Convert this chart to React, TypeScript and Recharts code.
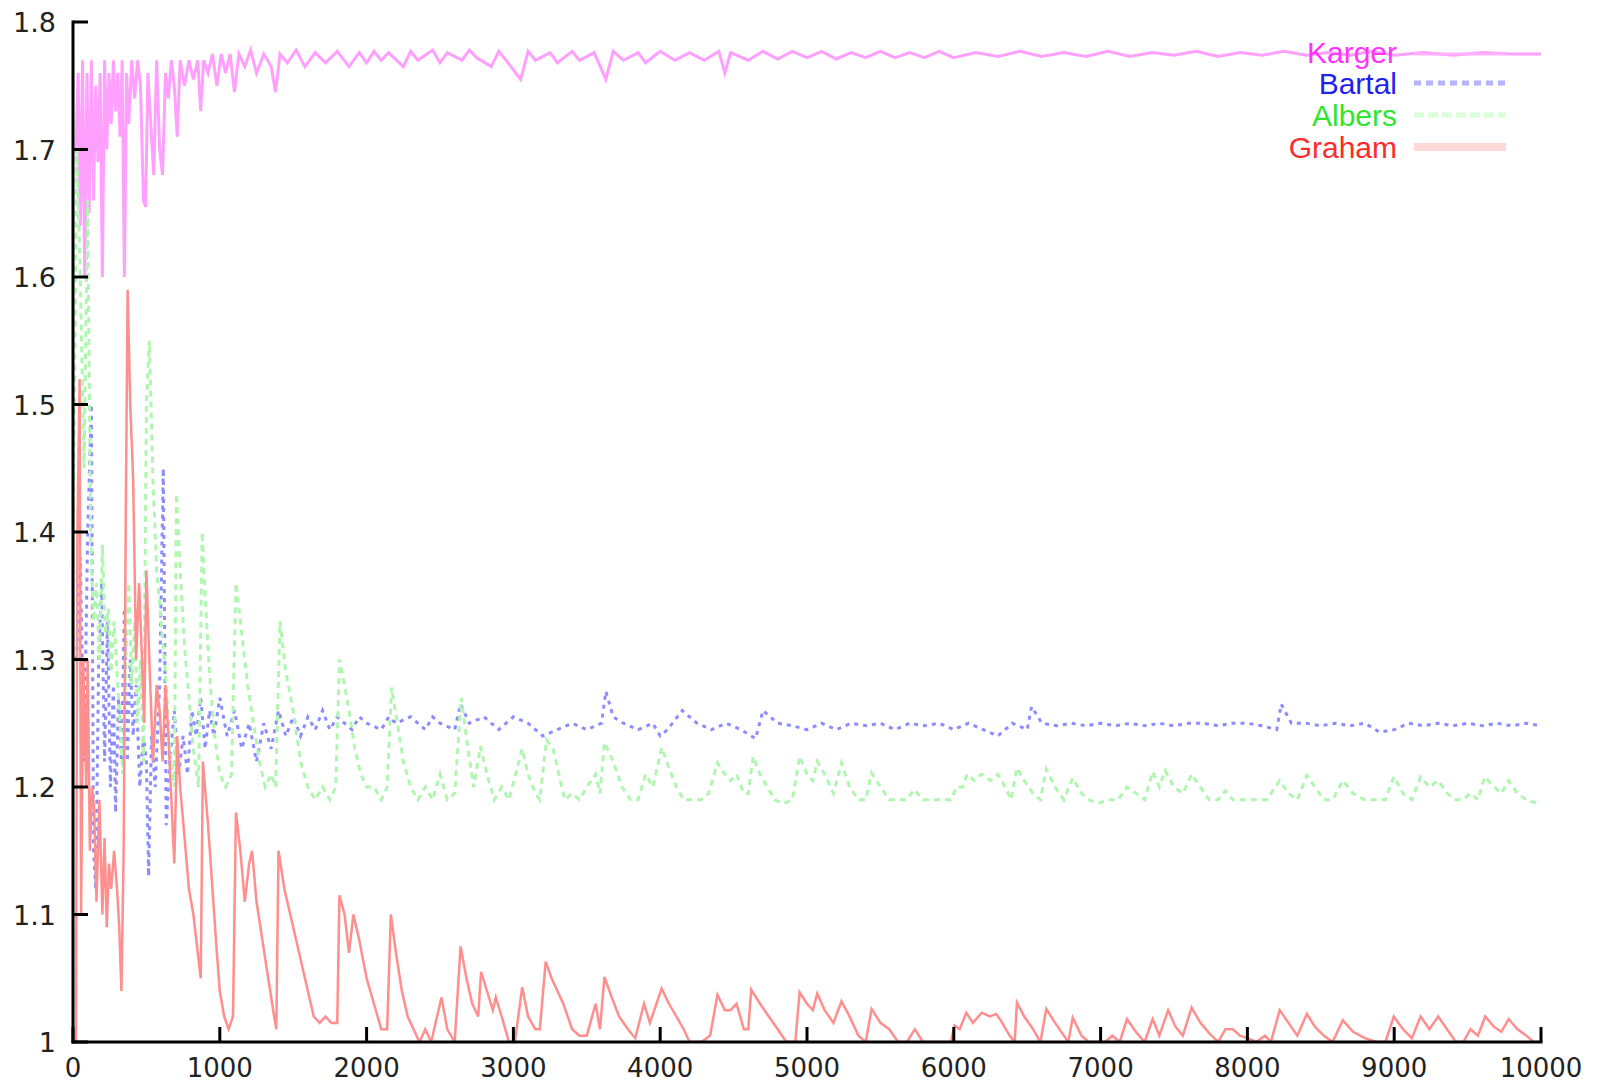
import React from 'react';
import { LineChart, Line, XAxis, YAxis } from 'recharts';

// tick values
const xTicks = [0, 1000, 2000, 3000, 4000, 5000, 6000, 7000, 8000, 9000, 10000];
const yTicks = [1, 1.1, 1.2, 1.3, 1.4, 1.5, 1.6, 1.7, 1.8];

// series as [x, ratio]
const karger: [number, number][] = [
  [20, 1.70], [35, 1.76], [50, 1.64], [65, 1.77], [80, 1.60], [95, 1.76], [110, 1.65], [125, 1.77],
  [140, 1.66], [155, 1.75], [170, 1.69], [185, 1.76], [200, 1.60], [215, 1.77], [230, 1.70], [245, 1.76],
  [260, 1.72], [275, 1.77], [290, 1.73], [305, 1.76], [320, 1.71], [335, 1.77], [350, 1.60], [365, 1.76],
  [380, 1.72], [400, 1.77], [420, 1.74], [440, 1.77], [460, 1.75], [480, 1.66], [495, 1.655], [510, 1.76],
  [530, 1.72], [550, 1.68], [570, 1.77], [590, 1.70], [610, 1.68], [630, 1.76], [650, 1.74], [670, 1.77],
  [690, 1.75], [710, 1.71], [730, 1.77], [760, 1.75], [790, 1.77], [820, 1.755], [850, 1.77], [870, 1.73],
  [890, 1.77], [920, 1.76], [950, 1.775], [980, 1.75], [1010, 1.775], [1040, 1.76], [1070, 1.775],
  [1100, 1.745], [1130, 1.775], [1170, 1.765], [1210, 1.778], [1250, 1.76], [1300, 1.775], [1350, 1.765],
  [1380, 1.745], [1410, 1.775], [1460, 1.768], [1520, 1.778], [1580, 1.765], [1650, 1.776], [1720, 1.768],
  [1800, 1.777], [1880, 1.765], [1950, 1.776], [2000, 1.768], [2050, 1.777], [2100, 1.77], [2150, 1.776],
  [2250, 1.765], [2300, 1.777], [2350, 1.77], [2450, 1.778], [2500, 1.768], [2550, 1.776], [2650, 1.77],
  [2700, 1.778], [2750, 1.772], [2850, 1.765], [2900, 1.777], [2950, 1.77], [3050, 1.755], [3100, 1.777],
  [3150, 1.77], [3250, 1.776], [3300, 1.768], [3400, 1.777], [3450, 1.77], [3550, 1.776], [3630, 1.755],
  [3680, 1.777], [3750, 1.77], [3850, 1.776], [3900, 1.768], [4000, 1.777], [4100, 1.77], [4200, 1.776],
  [4300, 1.77], [4400, 1.777], [4440, 1.76], [4480, 1.776], [4600, 1.77], [4700, 1.777], [4800, 1.771],
  [4900, 1.777], [5000, 1.772], [5100, 1.777], [5200, 1.771], [5300, 1.776], [5400, 1.772], [5500, 1.777],
  [5600, 1.772], [5700, 1.776], [5800, 1.772], [5900, 1.777], [6000, 1.772], [6150, 1.776], [6300, 1.773],
  [6450, 1.777], [6600, 1.773], [6750, 1.776], [6900, 1.773], [7050, 1.777], [7200, 1.773], [7350, 1.776],
  [7500, 1.774], [7650, 1.777], [7800, 1.773], [7950, 1.776], [8100, 1.774], [8250, 1.777], [8400, 1.774],
  [8550, 1.776], [8700, 1.774], [8850, 1.777], [9000, 1.774], [9200, 1.776], [9400, 1.774], [9600, 1.776],
  [9800, 1.775], [10000, 1.775],
];

const bartal: [number, number][] = [
  [25, 1.30], [50, 1.38], [75, 1.22], [100, 1.40], [125, 1.50], [140, 1.15], [155, 1.12], [175, 1.30],
  [195, 1.36], [215, 1.22], [235, 1.33], [255, 1.20], [275, 1.28], [290, 1.18], [310, 1.27], [330, 1.22],
  [350, 1.34], [370, 1.22], [390, 1.30], [410, 1.24], [430, 1.28], [455, 1.20], [480, 1.24], [500, 1.22],
  [515, 1.13], [535, 1.24], [560, 1.20], [590, 1.28], [615, 1.45], [635, 1.17], [660, 1.22], [690, 1.26],
  [720, 1.21], [750, 1.24], [780, 1.21], [810, 1.26], [840, 1.24], [870, 1.27], [900, 1.23], [930, 1.26],
  [960, 1.24], [1000, 1.27], [1050, 1.24], [1100, 1.26], [1150, 1.23], [1200, 1.25], [1250, 1.22],
  [1300, 1.25], [1350, 1.23], [1400, 1.26], [1450, 1.24], [1500, 1.255], [1550, 1.24], [1600, 1.255],
  [1650, 1.245], [1700, 1.26], [1750, 1.245], [1800, 1.255], [1850, 1.25], [1900, 1.245], [1950, 1.255],
  [2000, 1.25], [2100, 1.245], [2150, 1.255], [2200, 1.25], [2300, 1.255], [2400, 1.245], [2450, 1.255],
  [2500, 1.25], [2600, 1.245], [2640, 1.265], [2700, 1.25], [2800, 1.255], [2900, 1.245], [3000, 1.255],
  [3100, 1.25], [3200, 1.24], [3300, 1.245], [3400, 1.25], [3500, 1.245], [3600, 1.25], [3630, 1.275],
  [3680, 1.255], [3750, 1.25], [3850, 1.245], [3950, 1.25], [4000, 1.24], [4050, 1.245], [4150, 1.26],
  [4250, 1.25], [4350, 1.245], [4450, 1.25], [4550, 1.245], [4620, 1.24], [4650, 1.238], [4700, 1.26],
  [4800, 1.25], [4900, 1.248], [5000, 1.245], [5100, 1.25], [5200, 1.245], [5300, 1.25], [5400, 1.248],
  [5500, 1.25], [5600, 1.245], [5700, 1.25], [5800, 1.248], [5900, 1.25], [6000, 1.245], [6100, 1.25],
  [6200, 1.245], [6300, 1.24], [6400, 1.25], [6500, 1.245], [6530, 1.263], [6600, 1.25], [6700, 1.248],
  [6800, 1.25], [6900, 1.248], [7000, 1.25], [7100, 1.248], [7200, 1.25], [7300, 1.248], [7400, 1.25],
  [7500, 1.248], [7600, 1.25], [7700, 1.25], [7800, 1.248], [7900, 1.25], [8000, 1.25], [8100, 1.248],
  [8200, 1.245], [8230, 1.265], [8300, 1.25], [8400, 1.25], [8500, 1.248], [8600, 1.25], [8700, 1.248],
  [8800, 1.25], [8900, 1.243], [9000, 1.245], [9100, 1.25], [9200, 1.248], [9300, 1.25], [9400, 1.248],
  [9500, 1.25], [9600, 1.248], [9700, 1.25], [9800, 1.248], [9900, 1.25], [10000, 1.248],
];

const albers: [number, number][] = [
  [0, 1.38], [25, 1.70], [50, 1.60], [75, 1.45], [100, 1.66], [120, 1.40], [140, 1.33], [160, 1.36],
  [180, 1.30], [200, 1.39], [220, 1.32], [240, 1.34], [260, 1.29], [280, 1.33], [300, 1.29], [320, 1.25],
  [340, 1.21], [360, 1.30], [380, 1.36], [400, 1.28], [420, 1.33], [440, 1.25], [460, 1.30], [480, 1.22],
  [500, 1.50], [520, 1.55], [545, 1.44], [570, 1.37], [600, 1.33], [630, 1.29], [660, 1.23], [690, 1.20],
  [705, 1.43], [730, 1.37], [760, 1.31], [790, 1.27], [820, 1.23], [855, 1.20], [880, 1.40], [905, 1.34],
  [935, 1.28], [965, 1.24], [1000, 1.21], [1040, 1.20], [1080, 1.21], [1110, 1.36], [1150, 1.32],
  [1190, 1.28], [1230, 1.25], [1270, 1.22], [1310, 1.20], [1350, 1.21], [1380, 1.20], [1410, 1.33],
  [1450, 1.29], [1500, 1.26], [1550, 1.22], [1600, 1.20], [1650, 1.19], [1700, 1.20], [1750, 1.19],
  [1790, 1.20], [1815, 1.30], [1850, 1.28], [1880, 1.26], [1920, 1.23], [1960, 1.21], [2000, 1.20],
  [2050, 1.20], [2100, 1.19], [2140, 1.20], [2170, 1.278], [2210, 1.25], [2250, 1.22], [2300, 1.20],
  [2350, 1.19], [2400, 1.20], [2450, 1.19], [2500, 1.21], [2550, 1.19], [2600, 1.195], [2645, 1.27],
  [2690, 1.23], [2730, 1.20], [2775, 1.232], [2820, 1.21], [2870, 1.19], [2920, 1.20], [2970, 1.19],
  [3060, 1.23], [3100, 1.21], [3150, 1.195], [3180, 1.19], [3225, 1.237], [3270, 1.23], [3310, 1.21],
  [3350, 1.19], [3400, 1.195], [3450, 1.19], [3500, 1.20], [3560, 1.21], [3590, 1.195], [3620, 1.235],
  [3680, 1.22], [3740, 1.20], [3800, 1.19], [3850, 1.19], [3900, 1.21], [3950, 1.20], [4010, 1.231],
  [4060, 1.215], [4110, 1.20], [4160, 1.19], [4220, 1.19], [4280, 1.19], [4330, 1.195], [4390, 1.219],
  [4440, 1.21], [4480, 1.205], [4520, 1.21], [4570, 1.195], [4600, 1.195], [4633, 1.224], [4680, 1.21],
  [4730, 1.20], [4780, 1.19], [4840, 1.187], [4900, 1.19], [4950, 1.224], [5000, 1.21], [5040, 1.205],
  [5070, 1.22], [5120, 1.21], [5180, 1.195], [5235, 1.219], [5290, 1.20], [5350, 1.19], [5400, 1.19],
  [5440, 1.211], [5500, 1.20], [5560, 1.19], [5620, 1.19], [5680, 1.19], [5730, 1.198], [5790, 1.19],
  [5850, 1.19], [5920, 1.19], [5980, 1.19], [6020, 1.20], [6060, 1.20], [6090, 1.21], [6140, 1.205],
  [6190, 1.21], [6250, 1.205], [6300, 1.21], [6350, 1.20], [6390, 1.19], [6430, 1.215], [6480, 1.205],
  [6540, 1.195], [6590, 1.19], [6630, 1.214], [6690, 1.20], [6750, 1.19], [6810, 1.207], [6870, 1.195],
  [6920, 1.19], [6980, 1.187], [7050, 1.19], [7120, 1.19], [7180, 1.20], [7240, 1.195], [7300, 1.19],
  [7355, 1.212], [7400, 1.20], [7440, 1.213], [7500, 1.20], [7560, 1.195], [7620, 1.21], [7680, 1.20],
  [7740, 1.19], [7800, 1.19], [7850, 1.197], [7900, 1.19], [7960, 1.19], [8020, 1.19], [8080, 1.19],
  [8130, 1.19], [8220, 1.205], [8280, 1.195], [8340, 1.19], [8405, 1.209], [8460, 1.20], [8520, 1.19],
  [8580, 1.19], [8650, 1.205], [8720, 1.195], [8800, 1.19], [8880, 1.19], [8940, 1.19], [8997, 1.208],
  [9060, 1.195], [9120, 1.19], [9180, 1.208], [9240, 1.20], [9300, 1.205], [9360, 1.195], [9420, 1.19],
  [9470, 1.19], [9520, 1.195], [9570, 1.19], [9617, 1.208], [9680, 1.20], [9730, 1.195], [9780, 1.205],
  [9840, 1.195], [9900, 1.19], [9950, 1.188], [10000, 1.188],
];

const graham: [number, number][] = [
  [0, 1.00], [20, 1.00], [30, 1.40], [45, 1.52], [55, 1.10], [70, 1.30], [90, 1.20], [100, 1.30],
  [115, 1.15], [130, 1.20], [145, 1.18], [160, 1.11], [180, 1.19], [200, 1.10], [215, 1.16], [230, 1.09],
  [245, 1.14], [260, 1.12], [280, 1.15], [300, 1.12], [315, 1.09], [330, 1.04], [345, 1.15], [360, 1.42],
  [372, 1.59], [390, 1.50], [410, 1.44], [430, 1.30], [450, 1.36], [470, 1.30], [485, 1.25], [500, 1.37],
  [520, 1.30], [545, 1.22], [570, 1.28], [590, 1.26], [610, 1.22], [630, 1.28], [650, 1.24], [670, 1.19],
  [690, 1.14], [710, 1.24], [730, 1.20], [760, 1.16], [790, 1.12], [820, 1.10], [850, 1.07], [870, 1.05],
  [885, 1.22], [920, 1.17], [950, 1.12], [980, 1.07], [1000, 1.04], [1030, 1.02], [1060, 1.01],
  [1090, 1.02], [1110, 1.18], [1140, 1.15], [1170, 1.11], [1200, 1.14], [1220, 1.15], [1250, 1.11],
  [1290, 1.08], [1330, 1.05], [1370, 1.02], [1385, 1.01], [1400, 1.15], [1440, 1.12], [1480, 1.10],
  [1520, 1.08], [1560, 1.06], [1600, 1.04], [1640, 1.02], [1680, 1.015], [1720, 1.02], [1760, 1.015],
  [1800, 1.015], [1815, 1.115], [1850, 1.10], [1880, 1.07], [1910, 1.10], [1950, 1.08], [2000, 1.05],
  [2050, 1.03], [2100, 1.01], [2140, 1.01], [2165, 1.10], [2200, 1.07], [2240, 1.04], [2280, 1.02],
  [2320, 1.01], [2360, 1.00], [2400, 1.01], [2440, 1.00], [2480, 1.02], [2510, 1.035], [2550, 1.01],
  [2600, 1.00], [2640, 1.075], [2680, 1.05], [2720, 1.03], [2760, 1.02], [2780, 1.055], [2820, 1.04],
  [2860, 1.025], [2880, 1.035], [2920, 1.02], [2970, 1.00], [3010, 1.00], [3060, 1.043], [3100, 1.02],
  [3150, 1.01], [3180, 1.01], [3220, 1.063], [3260, 1.05], [3300, 1.04], [3340, 1.03], [3400, 1.01],
  [3450, 1.005], [3500, 1.005], [3560, 1.03], [3590, 1.01], [3620, 1.051], [3670, 1.035], [3720, 1.02],
  [3780, 1.01], [3830, 1.003], [3890, 1.03], [3930, 1.015], [4010, 1.042], [4060, 1.03], [4110, 1.02],
  [4160, 1.01], [4200, 1.0], [4280, 1.0], [4340, 1.005], [4390, 1.037], [4440, 1.025], [4480, 1.025],
  [4520, 1.03], [4570, 1.01], [4600, 1.01], [4620, 1.041], [4680, 1.03], [4740, 1.02], [4800, 1.01],
  [4860, 1.0], [4920, 1.0], [4950, 1.039], [5000, 1.03], [5040, 1.025], [5070, 1.038], [5120, 1.025],
  [5180, 1.015], [5235, 1.032], [5290, 1.02], [5350, 1.005], [5400, 1.0], [5440, 1.026], [5500, 1.015],
  [5560, 1.01], [5620, 1.0], [5680, 1.0], [5735, 1.01], [5790, 1.0], [5850, 1.0], [5920, 1.0],
  [5980, 1.0], [6005, 1.013], [6040, 1.01], [6085, 1.023], [6130, 1.015], [6190, 1.023], [6245, 1.02],
  [6290, 1.022], [6330, 1.015], [6380, 1.005], [6415, 1.0], [6430, 1.031], [6480, 1.02], [6540, 1.01],
  [6590, 1.0], [6630, 1.026], [6690, 1.015], [6750, 1.005], [6780, 1.0], [6810, 1.019], [6870, 1.005],
  [6920, 1.0], [6980, 1.0], [7030, 1.0], [7080, 1.005], [7130, 1.0], [7180, 1.018], [7240, 1.008],
  [7300, 1.0], [7355, 1.018], [7400, 1.005], [7460, 1.025], [7510, 1.012], [7560, 1.005], [7620, 1.027],
  [7680, 1.015], [7740, 1.007], [7800, 1.0], [7850, 1.01], [7900, 1.01], [7950, 1.005], [8000, 1.003],
  [8060, 1.0], [8120, 1.005], [8160, 1.0], [8220, 1.025], [8280, 1.015], [8340, 1.005], [8405, 1.022],
  [8460, 1.012], [8520, 1.005], [8580, 1.0], [8650, 1.017], [8720, 1.008], [8800, 1.003], [8880, 1.0],
  [8940, 1.0], [8997, 1.02], [9060, 1.01], [9120, 1.003], [9180, 1.02], [9240, 1.01], [9300, 1.02],
  [9360, 1.01], [9420, 1.0], [9470, 1.0], [9520, 1.01], [9570, 1.005], [9620, 1.02], [9680, 1.012],
  [9730, 1.008], [9780, 1.018], [9840, 1.01], [9900, 1.005], [9950, 1.0], [10000, 1.0],
];

const rows = (pts: [number, number][]) => pts.map(([x, v]) => ({ x, v }));

const W = 1602;
const H = 1085;
const tickFont = '"DejaVu Sans", sans-serif';
const labelColor = '#222';
const frame = { stroke: '#000', strokeWidth: 3, strokeLinecap: 'square' as const };

const BottomTick = (props: any) => {
  const { x, y, payload } = props;
  return (
    <g>
      <line x1={x} x2={x} y1={y} y2={y - 15} stroke="#000" strokeWidth={3} />
      <text x={x} y={y + 35} textAnchor="middle" fontSize={26} fontFamily={tickFont} fill={labelColor}>
        {payload.value}
      </text>
    </g>
  );
};

const LeftTick = (props: any) => {
  const { x, y, payload } = props;
  return (
    <g>
      <line x1={x} x2={x + 15} y1={y} y2={y} stroke="#000" strokeWidth={3} />
      <text x={x - 17} y={y + 10} textAnchor="end" fontSize={27} fontFamily={tickFont} fill={labelColor}>
        {String(payload.value)}
      </text>
    </g>
  );
};

const TopTick = (props: any) => {
  const { x, y } = props;
  return <line x1={x} x2={x} y1={y} y2={y + 15} stroke="#000" strokeWidth={3} />;
};

const RightTick = (props: any) => {
  const { x, y } = props;
  return <line x1={x} x2={x - 15} y1={y} y2={y} stroke="#000" strokeWidth={3} />;
};

const legendItems = [
  { name: 'Karger', text: '#ff33ff', sample: '#ffb0ff', width: 3, dash: undefined as string | undefined, baseline: 63, lineY: 54 },
  { name: 'Bartal', text: '#1f1ff0', sample: '#b4b4ff', width: 5, dash: '7 5', baseline: 94, lineY: 83 },
  { name: 'Albers', text: '#2ee62e', sample: '#d8ffd8', width: 5, dash: '10 4', baseline: 126, lineY: 115 },
  { name: 'Graham', text: '#ff2a2a', sample: '#ffd8d8', width: 8, dash: undefined, baseline: 158, lineY: 147 },
];

export default function App() {
  return (
    <div style={{ position: 'absolute', left: 0, top: 0, width: W, height: H, background: '#fff' }}>
      <LineChart width={W} height={H} margin={{ top: 22, right: 61, bottom: 0, left: 0 }}>
        <XAxis
          dataKey="x"
          type="number"
          domain={[0, 10000]}
          ticks={xTicks}
          interval={0}
          height={43}
          tickSize={0}
          tickMargin={0}
          tickLine={false}
          axisLine={frame}
          tick={<BottomTick />}
          allowDataOverflow
        />
        <XAxis
          xAxisId="top"
          orientation="top"
          dataKey="x"
          type="number"
          domain={[0, 10000]}
          ticks={xTicks}
          interval={0}
          height={0}
          tickSize={0}
          tickMargin={0}
          tickLine={false}
          axisLine={frame}
          tick={<TopTick />}
          allowDataOverflow
        />
        <YAxis
          type="number"
          domain={[1, 1.8]}
          ticks={yTicks}
          interval={0}
          width={73}
          tickSize={0}
          tickMargin={0}
          tickLine={false}
          axisLine={frame}
          tick={<LeftTick />}
          allowDataOverflow
        />
        <YAxis
          yAxisId="right"
          orientation="right"
          type="number"
          domain={[1, 1.8]}
          ticks={yTicks}
          interval={0}
          width={0}
          tickSize={0}
          tickMargin={0}
          tickLine={false}
          axisLine={frame}
          tick={<RightTick />}
          allowDataOverflow
        />
        <Line data={rows(karger)} dataKey="v" name="Karger" type="linear" stroke="#ffa0ff" strokeWidth={3} dot={false} activeDot={false} isAnimationActive={false} />
        <Line data={rows(bartal)} dataKey="v" name="Bartal" type="linear" stroke="#8c8cff" strokeWidth={3} strokeDasharray="4 5" dot={false} activeDot={false} isAnimationActive={false} />
        <Line data={rows(albers)} dataKey="v" name="Albers" type="linear" stroke="#b0f5b0" strokeWidth={3} strokeDasharray="6 5" dot={false} activeDot={false} isAnimationActive={false} />
        <Line data={rows(graham)} dataKey="v" name="Graham" type="linear" stroke="#ff8e8e" strokeWidth={2.5} dot={false} activeDot={false} isAnimationActive={false} />
      </LineChart>
      <svg width={W} height={200} style={{ position: 'absolute', left: 0, top: 0, pointerEvents: 'none' }}>
        {legendItems.map((it) => (
          <g key={it.name}>
            <line x1={1414} x2={1506} y1={it.lineY} y2={it.lineY} stroke={it.sample} strokeWidth={it.width} strokeDasharray={it.dash} />
            <text x={1397} y={it.baseline} textAnchor="end" fontSize={30} fontFamily='"Liberation Sans", Arial, sans-serif' fill={it.text}>
              {it.name}
            </text>
          </g>
        ))}
      </svg>
    </div>
  );
}
